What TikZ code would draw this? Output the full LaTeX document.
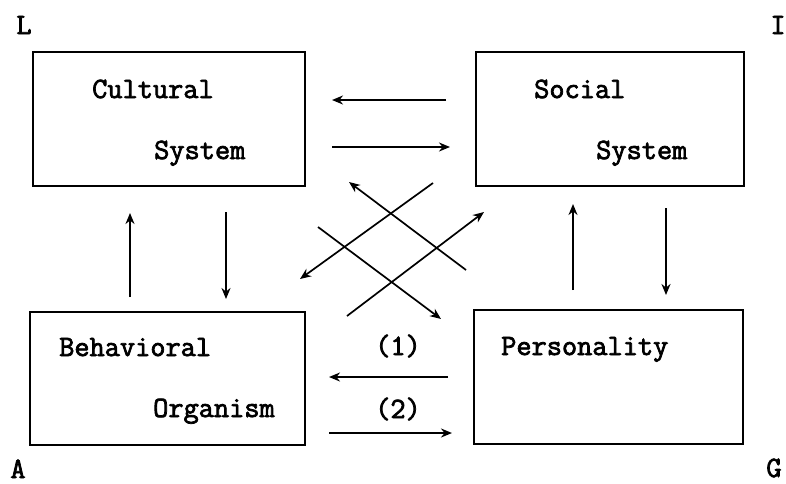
\documentclass[tikz,border=0pt]{standalone}
\usepackage{fontspec}
\usetikzlibrary{arrows.meta}
\newfontfamily\typew{Latin Modern Mono}[FakeBold=2.5]
\begin{document}
\begin{tikzpicture}[x=1pt,y=-1pt,
  box/.style={draw,line width=2.2pt,minimum width=#1,minimum height=134pt,inner sep=0pt},
  txt/.style={anchor=base west,inner sep=0pt,font=\typew\fontsize{29.5}{30}\selectfont},
  lbl/.style={anchor=base,inner sep=0pt,font=\typew\fontsize{29.5}{30}\selectfont},
  arr/.style={line width=1.7pt,-{Stealth[length=11pt,width=9pt,inset=3.5pt]}}]
\useasboundingbox (0,0) rectangle (786,483);
% boxes
\node[box=272pt] (cult) at (169,119) {};
\node[box=268pt] (soc) at (610,119) {};
\node[box=275pt,minimum height=133pt] (beh) at (167.5,378.5) {};
\node[box=269pt] (pers) at (608.5,377) {};
% texts
\node[txt] (t1) at (92,98) {Cultural};
\node[txt] (t2) at (154,159) {System};
\node[txt] (t3) at (534,98) {Social};
\node[txt] (t4) at (596,159) {System};
\node[txt] (t5) at (59,356) {Behavioral};
\node[txt] (t6) at (153,417) {Organism};
\node[txt] (t7) at (501,355) {Personality};
\node[lbl] (n1) at (398,355) {(1)};
\node[lbl] (n2) at (398,418) {(2)};
% corners
\node[lbl] (L) at (24,34) {L};
\node[lbl] (I) at (778,34) {I};
\node[lbl] (A) at (18,478) {A};
\node[lbl] (G) at (774,477) {G};
% arrow endpoints
\coordinate (h1a) at (446,100); \coordinate (h1b) at (332,100);
\coordinate (h2a) at (332,147); \coordinate (h2b) at (450,147);
\coordinate (h3a) at (448,377); \coordinate (h3b) at (329,377);
\coordinate (h4a) at (329,433); \coordinate (h4b) at (452,433);
\coordinate (v1a) at (130,297); \coordinate (v1b) at (130,213);
\coordinate (v2a) at (226,212); \coordinate (v2b) at (226,299);
\coordinate (v3a) at (573,290); \coordinate (v3b) at (573,204);
\coordinate (v4a) at (666,208); \coordinate (v4b) at (666,295);
\coordinate (d1a) at (466,270); \coordinate (d1b) at (349,182);
\coordinate (d2a) at (347,316); \coordinate (d2b) at (484,212);
\coordinate (d3a) at (433,183); \coordinate (d3b) at (300,279);
\coordinate (d4a) at (318,227); \coordinate (d4b) at (441,319);
\draw[arr] (h1a) -- (h1b);
\draw[arr] (h2a) -- (h2b);
\draw[arr] (h3a) -- (h3b);
\draw[arr] (h4a) -- (h4b);
\draw[arr] (v1a) -- (v1b);
\draw[arr] (v2a) -- (v2b);
\draw[arr] (v3a) -- (v3b);
\draw[arr] (v4a) -- (v4b);
\draw[arr] (d1a) -- (d1b);
\draw[arr] (d2a) -- (d2b);
\draw[arr] (d3a) -- (d3b);
\draw[arr] (d4a) -- (d4b);
\end{tikzpicture}
\end{document}
